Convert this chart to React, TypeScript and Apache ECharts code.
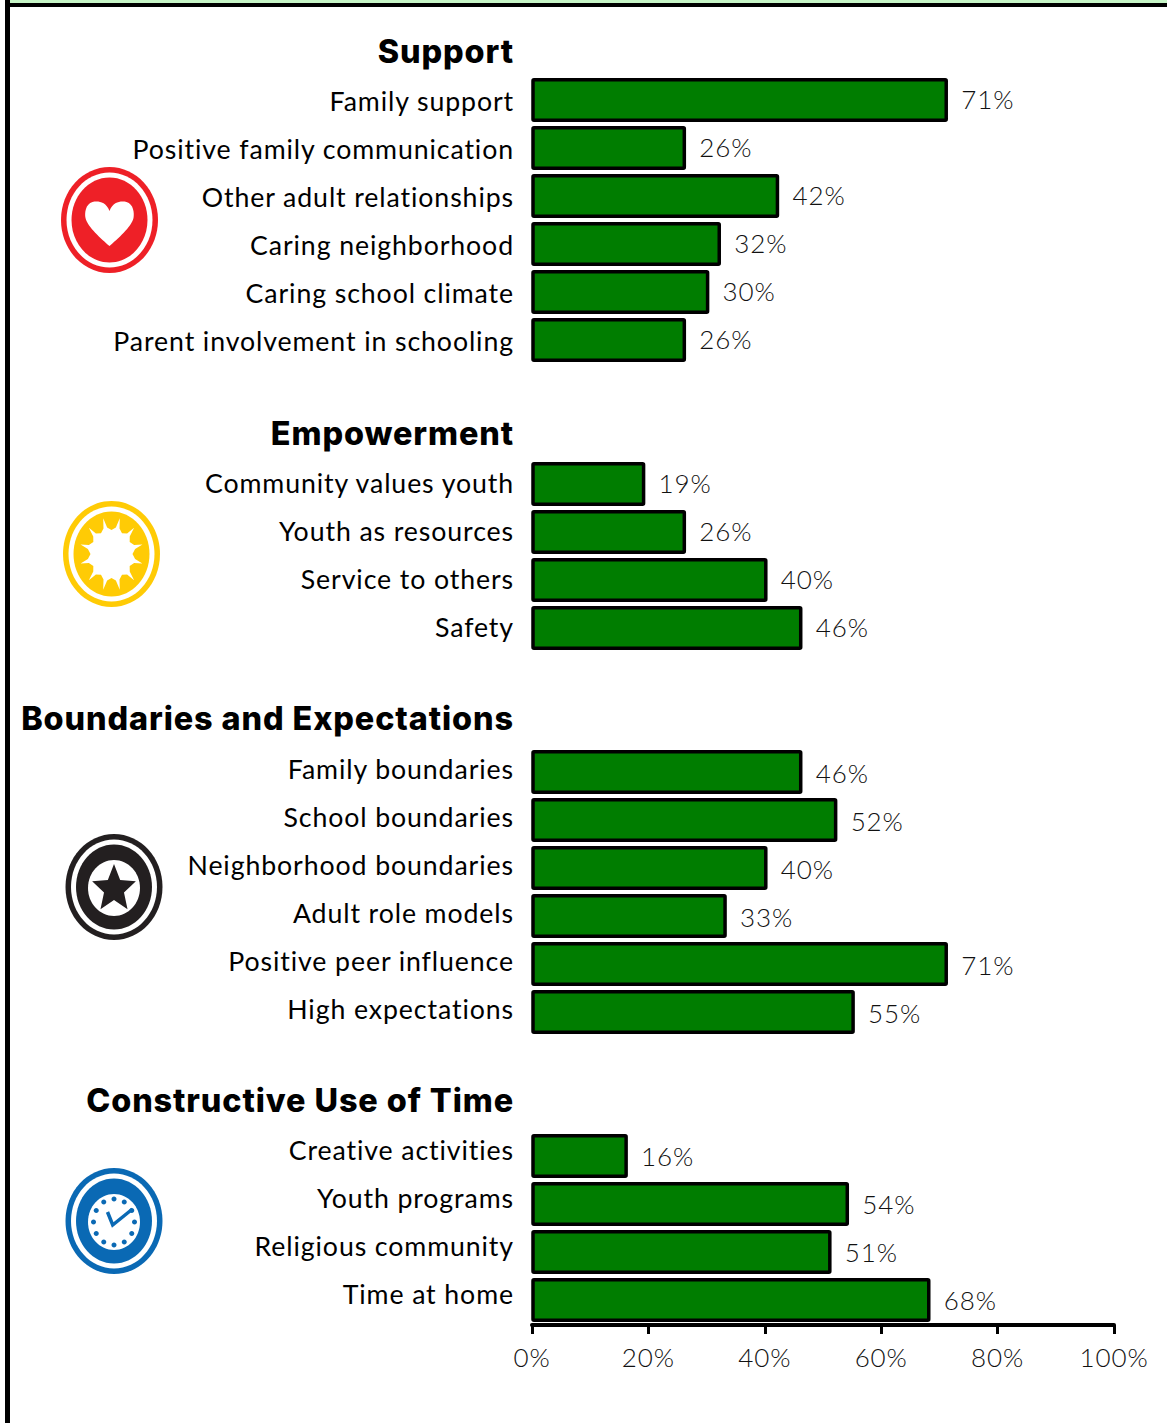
import React, { useEffect, useRef } from "react";
import * as echarts from "echarts";

const supportTitle = "Support";
const supportNames = ["Family support", "Positive family communication", "Other adult relationships", "Caring neighborhood", "Caring school climate", "Parent involvement in schooling"];
const supportValues = [71, 26, 42, 32, 30, 26];
const empowermentTitle = "Empowerment";
const empowermentNames = ["Community values youth", "Youth as resources", "Service to others", "Safety"];
const empowermentValues = [19, 26, 40, 46];
const boundariesTitle = "Boundaries and Expectations";
const boundariesNames = ["Family boundaries", "School boundaries", "Neighborhood boundaries", "Adult role models", "Positive peer influence", "High expectations"];
const boundariesValues = [46, 52, 40, 33, 71, 55];
const timeTitle = "Constructive Use of Time";
const timeNames = ["Creative activities", "Youth programs", "Religious community", "Time at home"];
const timeValues = [16, 54, 51, 68];
const axisTicks = [0, 20, 40, 60, 80, 100];

// layout nudges per section, px: heading, row label, value label
const titleNudge = [-1, -3, -6, -8];
const nameNudge = [1, -1, -3, -6];
const valueNudge = [-1, -1, 1, 0];

const FONT = "Lato";
const sections = [
  { title: supportTitle, names: supportNames, values: supportValues },
  { title: empowermentTitle, names: empowermentNames, values: empowermentValues },
  { title: boundariesTitle, names: boundariesNames, values: boundariesValues },
  { title: timeTitle, names: timeNames, values: timeValues },
];

const categories: string[] = [];
const labelKeys: Record<string, string> = {};
const seriesData: number[][] = [];
sections.forEach((s, i) => {
  labelKeys[s.title] = `h${i}`;
  categories.push(s.title);
  s.names.forEach((n, j) => {
    labelKeys[n] = `n${i}`;
    seriesData.push([s.values[j], categories.length, valueNudge[i]]);
    categories.push(n);
  });
  if (i < sections.length - 1) categories.push(" ".repeat(i + 1));
});

const nudgeStyle = (d: number) => (d >= 0 ? [d * 2, 0, 0, 0] : [0, 0, -d * 2, 0]);
const rich: Record<string, any> = {};
sections.forEach((_, i) => {
  rich[`h${i}`] = { fontFamily: "Inter", fontWeight: 800, fontSize: 32.4, color: "#000", padding: nudgeStyle(titleNudge[i]) };
  rich[`n${i}`] = { fontFamily: FONT, fontWeight: 400, fontSize: 26.7, color: "#000", padding: nudgeStyle(nameNudge[i]) };
});

const ellipse = (cx: number, cy: number, rx: number, ry: number, fill: string) => ({
  type: "ellipse", shape: { cx, cy, rx, ry }, style: { fill },
});
const badge = (cx: number, cy: number, color: string) => [
  ellipse(cx, cy, 48.5, 53, color),
  ellipse(cx, cy, 43, 47.5, "#fff"),
  ellipse(cx, cy, 38, 42.5, color),
];
const polar = (cx: number, cy: number, a: number, rx: number, ry: number) => [cx + Math.sin(a) * rx, cy - Math.cos(a) * ry];
const starPoints = (cx: number, cy: number) => {
  const pts: number[][] = [];
  for (let i = 0; i < 10; i++) {
    const a = (i * Math.PI) / 5;
    pts.push(i % 2 === 0 ? polar(cx, cy, a, 23, 25) : polar(cx, cy, a, 10.5, 11));
  }
  return pts;
};
const sunPoints = (cx: number, cy: number) => {
  const pts: number[][] = [];
  const step = Math.PI / 6;
  for (let i = 0; i < 12; i++) {
    const a = Math.PI / 12 + i * step;
    pts.push(polar(cx, cy, a - step * 0.5, 21, 24));
    pts.push(polar(cx, cy, a - step * 0.15, 24, 27));
    pts.push(polar(cx, cy, a, 32, 37));
    pts.push(polar(cx, cy, a + step * 0.15, 24, 27));
  }
  return pts;
};
const clockDots = () => {
  const out: any[] = [];
  for (let i = 0; i < 12; i++) {
    const a = (i * Math.PI) / 6;
    out.push(ellipse(114 + Math.sin(a) * 20.5, 1222 - Math.cos(a) * 23, 2.5, 2.5, "#0a69b4"));
  }
  return out;
};

const heartPath = "M0,-12 C-4,-22 -12,-22 -17,-21 C-24,-19 -25,-10 -24,-5 C-22,4 -8,16 0,23 C8,16 22,4 24,-5 C25,-10 24,-19 17,-21 C12,-22 4,-22 0,-12 Z";

const renderBar = (_: any, api: any) => {
  const v = api.value(0);
  const row = api.value(1);
  const nudge = api.value(2);
  const [x0, y] = api.coord([0, row]);
  const [x1] = api.coord([v, row]);
  return {
    type: "group",
    children: [
      {
        type: "rect",
        shape: { x: x0 + 1, y: y - 20.25, width: x1 - x0, height: 40.5, r: 1 },
        style: { fill: "#007d00", stroke: "#000", lineWidth: 3.5 },
      },
      {
        type: "text",
        style: {
          x: x1 + 16, y: y + nudge, text: `${v}%`, fill: "#111",
          fontFamily: FONT, fontWeight: 300, fontSize: 26, align: "left", verticalAlign: "middle",
        },
      },
    ],
  };
};

export default function App() {
  const ref = useRef<HTMLDivElement>(null);
  useEffect(() => {
    document.body.style.margin = "0";
    echarts.graphic.registerShape("heartIcon", echarts.graphic.extendPath(heartPath, {}) as any);
    const chart = echarts.init(ref.current!, undefined, { renderer: "svg" });
    chart.setOption({
      animation: false,
      grid: { left: 532, top: 28, width: 582, height: 1296, containLabel: false },
      xAxis: {
        type: "value", min: 0, max: 100, interval: 20, offset: 1,
        splitLine: { show: false },
        axisLine: { show: true, lineStyle: { color: "#000", width: 4 } },
        axisTick: { show: true, length: 9, lineStyle: { color: "#000", width: 3 } },
        axisLabel: {
          show: true, margin: 19, fontFamily: FONT, fontWeight: 300, fontSize: 26, color: "#111",
          formatter: (v: number) => (axisTicks.includes(v) ? `${v}%` : ""),
        },
      },
      yAxis: {
        type: "category", inverse: true, data: categories,
        axisLine: { show: false }, axisTick: { show: false },
        axisLabel: {
          interval: 0, margin: 18, align: "right",
          formatter: (v: string) => (labelKeys[v] ? `{${labelKeys[v]}|${v}}` : ""),
          rich,
        },
      },
      series: [{
        type: "custom", coordinateSystem: "cartesian2d", data: seriesData,
        encode: { x: 0, y: 1 }, renderItem: renderBar, clip: false,
      }],
      graphic: { elements: [
        { type: "rect", shape: { x: 10, y: 0, width: 1157, height: 3 }, style: { fill: "#c6f5c6" }, silent: true },
        { type: "rect", shape: { x: 5, y: 3, width: 1162, height: 4 }, style: { fill: "#000" }, silent: true },
        { type: "rect", shape: { x: 5, y: 0, width: 5, height: 1423 }, style: { fill: "#000" }, silent: true },
        ...badge(109.5, 220, "#ee2027"),
        { type: "heartIcon", x: 109.5, y: 223, scaleX: 1, scaleY: 1, style: { fill: "#fff" } },
        ...badge(111.5, 554, "#ffcb05"),
        { type: "polygon", shape: { points: sunPoints(111.5, 554) }, style: { fill: "#fff" } },
        ...badge(114, 887, "#231f20"),
        ellipse(114, 888, 26, 28, "#fff"),
        { type: "polygon", shape: { points: starPoints(114, 889) }, style: { fill: "#231f20" } },
        ...badge(114, 1221, "#0a69b4"),
        ellipse(114, 1222, 26, 28, "#fff"),
        ...clockDots(),
        { type: "polyline", shape: { points: [[107.5, 1212], [112.7, 1225], [132.5, 1209]] }, style: { stroke: "#0a69b4", lineWidth: 3.5, fill: "none" } },
      ] },
    });
    return () => chart.dispose();
  }, []);
  return <div ref={ref} style={{ width: 1167, height: 1423, letterSpacing: "0.9px" }} />;
}
